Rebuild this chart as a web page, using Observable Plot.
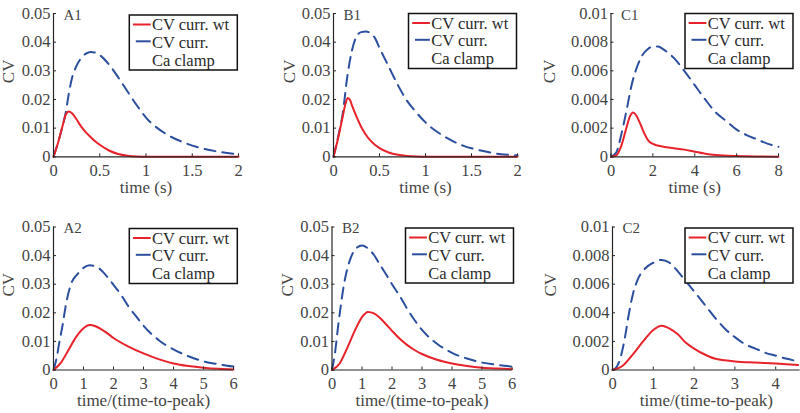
<!DOCTYPE html>
<html><head><meta charset="utf-8">
<script src="https://cdn.jsdelivr.net/npm/d3@7"></script>
<script src="https://cdn.jsdelivr.net/npm/@observablehq/plot@0.6"></script>
<style>
html,body{margin:0;padding:0;background:#fff;}
#chart{position:relative;width:800px;height:413px;overflow:hidden;background:#fff;}
#chart svg{position:absolute;left:0;top:0;}
</style></head><body><div id="chart"></div>
<script>
// ---------- text ----------
const seriesNames = ["CV curr. wt", "CV curr.", "Ca clamp"];
const panelTitles = ["A1", "B1", "C1", "A2", "B2", "C2"];
const xLabelTime = "time (s)";
const xLabelNorm = "time/(time-to-peak)";
const yLabel = "CV";

// ---------- ticks ----------
const yTicksAB = [0, 0.01, 0.02, 0.03, 0.04, 0.05];
const yTicksC = [0, 0.002, 0.004, 0.006, 0.008, 0.01];
const xTicksAB1 = [0, 0.5, 1, 1.5, 2];
const xTicksC1 = [0, 2, 4, 6, 8];
const xTicksNorm = [0, 1, 2, 3, 4, 5, 6];
const xTicksC2 = [0, 1, 2, 3, 4];

// ---------- data ----------
const a1WtT  = [0,0.05,0.1,0.13,0.166,0.2,0.25,0.3,0.35,0.4,0.45,0.5,0.6,0.7,0.8,0.9,1.0,1.5,2.0];
const a1WtCV = [0,0.005,0.011,0.0145,0.0158,0.0152,0.013,0.0105,0.0085,0.0069,0.0054,0.0042,0.0022,0.001,0.0004,0.0001,0,0,0];
const a1ClT  = [0,0.05,0.1,0.13,0.16,0.2,0.25,0.3,0.35,0.4,0.45,0.5,0.6,0.7,0.8,0.9,1.0,1.2,1.4,1.6,1.8,2.0];
const a1ClCV = [0,0.005,0.011,0.015,0.021,0.0275,0.0318,0.0345,0.036,0.0366,0.0364,0.0355,0.0322,0.0277,0.0228,0.018,0.0137,0.0083,0.0051,0.003,0.0017,0.0008];

const b1WtT  = [0,0.05,0.1,0.13,0.155,0.18,0.2,0.25,0.3,0.35,0.4,0.5,0.6,0.7,0.8,0.9,1.0,1.5,2.0];
const b1WtCV = [0,0.0065,0.014,0.0185,0.0205,0.0198,0.018,0.014,0.0105,0.0078,0.0057,0.003,0.0015,0.0007,0.0003,0.0001,0,0,0];
const b1ClT  = [0,0.05,0.1,0.15,0.2,0.25,0.3,0.35,0.4,0.45,0.5,0.6,0.7,0.8,0.9,1.0,1.2,1.4,1.6,1.8,2.0];
const b1ClCV = [0,0.007,0.015,0.028,0.037,0.042,0.0435,0.0437,0.0432,0.0415,0.038,0.0315,0.025,0.0195,0.0155,0.012,0.0072,0.004,0.0022,0.001,0.0005];

const c1WtT  = [0,0.25,0.5,0.75,0.9,1.05,1.2,1.4,1.6,1.8,2.0,2.5,3.0,3.5,4.0,4.5,5.0,6.0,7.0,8.0];
const c1WtCV = [0,0.0001,0.0008,0.0021,0.0028,0.0031,0.0029,0.0023,0.0016,0.0011,0.0009,0.0007,0.0006,0.0005,0.00035,0.00022,0.00013,0.00005,0.00002,0.00001];
const c1ClT  = [0,0.25,0.5,0.75,1.0,1.25,1.5,1.75,2.0,2.25,2.5,3.0,3.5,4.0,4.5,5.0,5.5,6.0,6.5,7.0,7.5,8.0];
const c1ClCV = [0,0.0003,0.0016,0.0033,0.0051,0.0063,0.0071,0.0075,0.0077,0.0077,0.0075,0.0069,0.006,0.005,0.004,0.0031,0.0025,0.0019,0.0015,0.0012,0.0009,0.0007];

const a2WtT  = [0,0.25,0.5,0.75,1.0,1.2,1.4,1.6,1.8,2.0,2.5,3.0,3.5,4.0,4.5,5.0,5.5,6.0];
const a2WtCV = [0,0.0026,0.007,0.0115,0.0146,0.0157,0.0153,0.0142,0.0128,0.0112,0.0082,0.0058,0.0038,0.0023,0.0014,0.0008,0.0004,0.0002];
const a2ClT  = [0,0.1,0.2,0.3,0.4,0.5,0.6,0.8,1.0,1.2,1.4,1.6,1.8,2.0,2.25,2.5,2.75,3.0,3.5,4.0,4.5,5.0,5.5,6.0];
const a2ClCV = [0,0.004,0.01,0.0155,0.022,0.027,0.0305,0.0335,0.0357,0.0366,0.0362,0.0348,0.0325,0.0298,0.0263,0.0222,0.0188,0.0155,0.0105,0.0072,0.0048,0.003,0.002,0.0012];

const b2WtT  = [0,0.25,0.5,0.75,1.0,1.2,1.4,1.6,1.8,2.0,2.25,2.5,2.75,3.0,3.5,4.0,4.5,5.0,5.5,6.0];
const b2WtCV = [0,0.0022,0.0075,0.0135,0.0185,0.0203,0.0198,0.0182,0.016,0.0137,0.011,0.0088,0.007,0.0056,0.0036,0.0023,0.0014,0.0008,0.0005,0.0003];
const b2ClT  = [0,0.1,0.2,0.3,0.4,0.5,0.6,0.8,1.0,1.2,1.4,1.6,1.8,2.0,2.25,2.5,2.75,3.0,3.5,4.0,4.5,5.0,5.5,6.0];
const b2ClCV = [0,0.006,0.015,0.023,0.03,0.035,0.0385,0.0425,0.0435,0.0425,0.0402,0.0368,0.0335,0.03,0.026,0.0215,0.0175,0.014,0.0092,0.006,0.004,0.0026,0.0018,0.0012];

const c2WtT  = [0,0.25,0.5,0.75,1.0,1.2,1.4,1.6,1.8,2.0,2.25,2.5,2.75,3.0,3.5,4.0,4.55];
const c2WtCV = [0,0.0003,0.0011,0.002,0.0028,0.0031,0.0029,0.0025,0.0019,0.0015,0.0011,0.0008,0.00068,0.0006,0.00052,0.00045,0.00035];
const c2ClT  = [0,0.1,0.2,0.3,0.4,0.5,0.6,0.8,1.0,1.2,1.4,1.6,1.8,2.0,2.25,2.5,2.75,3.0,3.25,3.5,3.75,4.0,4.25,4.55];
const c2ClCV = [0,0.0002,0.0009,0.0022,0.0039,0.0053,0.0062,0.0071,0.0075,0.0077,0.0075,0.0069,0.0062,0.0055,0.0046,0.0037,0.0029,0.0023,0.0018,0.0015,0.0012,0.001,0.0008,0.0006];

// ---------- style ----------
const RED = "#e8222a";
const BLUE = "#2b4f9e";
const INK = "#444";
const FONT = "'Liberation Serif', Tinos, 'Times New Roman', Times, serif";

const zip = (t, v) => t.map((d, i) => ({t: d, cv: v[i]}));

// layout (page pixel coordinates of each plot frame)
const panels = [
  {title: panelTitles[0], wt: zip(a1WtT, a1WtCV), cl: zip(a1ClT, a1ClCV), xd: [0, 2],   xt: xTicksAB1, yt: yTicksAB, xl: xLabelTime, L: 53,   R: 238,   T: 13,    B: 156.3, yOff: 44.5, lg: [129.3, 15]},
  {title: panelTitles[1], wt: zip(b1WtT, b1WtCV), cl: zip(b1ClT, b1ClCV), xd: [0, 2],   xt: xTicksAB1, yt: yTicksAB, xl: xLabelTime, L: 333,  R: 517,   T: 13,    B: 156.3, yOff: 44,   lg: [408.5, 13.5]},
  {title: panelTitles[2], wt: zip(c1WtT, c1WtCV), cl: zip(c1ClT, c1ClCV), xd: [0, 8],   xt: xTicksC1,  yt: yTicksC,  xl: xLabelTime, L: 610.5,R: 778,   T: 13,    B: 156.3, yOff: 61.5, lg: [685, 13.5]},
  {title: panelTitles[3], wt: zip(a2WtT, a2WtCV), cl: zip(a2ClT, a2ClCV), xd: [0, 6],   xt: xTicksNorm,yt: yTicksAB, xl: xLabelNorm, L: 53,   R: 233,   T: 226.5, B: 369.5, yOff: 44.5, lg: [129.3, 228.5]},
  {title: panelTitles[4], wt: zip(b2WtT, b2WtCV), cl: zip(b2ClT, b2ClCV), xd: [0, 6],   xt: xTicksNorm,yt: yTicksAB, xl: xLabelNorm, L: 331.5,R: 511.5, T: 226.5, B: 369.5, yOff: 44,   lg: [405.5, 228]},
  {title: panelTitles[5], wt: zip(c2WtT, c2WtCV), cl: zip(c2ClT, c2ClCV), xd: [0, 4.6], xt: xTicksC2,  yt: yTicksC,  xl: xLabelNorm, L: 612,  R: 799.7, T: 226.5, B: 369.5, yOff: 62,   lg: [685, 228]}
];

const W = 800, H = 413;
const chart = document.getElementById("chart");

for (const p of panels) {
  const pw = p.R - p.L, ph = p.B - p.T;
  const yMax = p.yt[p.yt.length - 1];
  const svgEl = Plot.plot({
    width: W, height: H,
    marginLeft: p.L, marginRight: W - p.R, marginTop: p.T, marginBottom: H - p.B,
    x: {domain: p.xd, axis: null},
    y: {domain: [0, yMax], axis: null},
    style: {fontFamily: FONT, fontSize: "16.5px", color: INK, background: "transparent", overflow: "visible"},
    marks: [
      Plot.line(p.cl, {x: "t", y: "cv", stroke: BLUE, strokeWidth: 2, strokeDasharray: "11,7", curve: "monotone-x"}),
      Plot.line(p.wt, {x: "t", y: "cv", stroke: RED, strokeWidth: 2, curve: "monotone-x"}),
      Plot.ruleX([p.xd[0]], {stroke: "#262626", strokeWidth: 1.2}),
      Plot.ruleY([0], {stroke: "#262626", strokeWidth: 1.2}),
      Plot.tickX(p.xt, {x: d => d, insetTop: ph - 3, stroke: "#262626"}),
      Plot.tickY(p.yt, {y: d => d, insetRight: pw - 3, stroke: "#262626"}),
      Plot.axisX(p.xt, {tickSize: 0, tickPadding: 7, tickFormat: d => String(d), label: null, fill: INK}),
      Plot.axisY(p.yt, {tickSize: 0, tickPadding: 3, tickFormat: d => String(d), label: null, fill: INK}),
      Plot.text([p.xl], {frameAnchor: "bottom", dy: 30.5, lineAnchor: "middle", fontSize: 17, fill: INK}),
      Plot.text([yLabel], {frameAnchor: "left", dx: -p.yOff, dy: -2, rotate: -90, lineAnchor: "middle", fontSize: 17, fill: INK}),
      Plot.text([p.title], {frameAnchor: "top-left", dx: 10, dy: 1.5, textAnchor: "start", lineAnchor: "middle", fontSize: 15, fill: INK})
    ]
  });
  // legend (white box drawn over the curves)
  const svg = d3.select(svgEl);
  const g = svg.append("g").attr("transform", `translate(${p.lg[0]},${p.lg[1]})`)
    .attr("font-family", FONT).attr("font-size", 16.5).attr("fill", "#2a2a2a").attr("text-anchor", "start");
  g.append("rect").attr("width", 108).attr("height", 55).attr("fill", "#fff").attr("stroke", "#111").attr("stroke-width", 1.5);
  g.append("line").attr("x1", 3.7).attr("x2", 21.4).attr("y1", 9.5).attr("y2", 9.5).attr("stroke", RED).attr("stroke-width", 2);
  g.append("line").attr("x1", 6.5).attr("x2", 21.4).attr("y1", 26.3).attr("y2", 26.3).attr("stroke", BLUE).attr("stroke-width", 2);
  g.append("text").attr("x", 22.7).attr("y", 15).attr("text-anchor", "start").text(seriesNames[0]);
  g.append("text").attr("x", 22.7).attr("y", 32.8).attr("text-anchor", "start").text(seriesNames[1]);
  g.append("text").attr("x", 22.7).attr("y", 50.5).attr("text-anchor", "start").text(seriesNames[2]);
  chart.appendChild(svgEl);
}
</script></body></html>
